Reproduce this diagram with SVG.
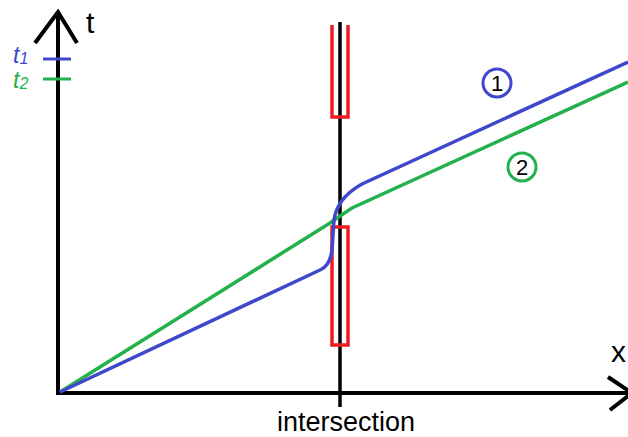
<svg xmlns="http://www.w3.org/2000/svg" width="628" height="437" viewBox="0 0 628 437">
<style>
.ax{stroke:#000;stroke-width:4;fill:none;stroke-linecap:butt}
.red{stroke:#ed1c24;stroke-width:3.5;fill:none}
.blue{stroke:#3f48cc;stroke-width:3.5;fill:none}
.green{stroke:#22b14c;stroke-width:3.5;fill:none}
text{font-family:"Liberation Sans",Arial,sans-serif}
</style>
<rect width="628" height="437" fill="#fff"/>
<g id="axes">
<path class="ax" d="M58,12 V393 H628"/>
<path class="ax" d="M35,43 L58,12 L77,43"/>
<path class="ax" d="M608,377 L632,393 L610,410"/>
<text x="86" y="33" font-size="30" fill="#000">t</text>
<text x="611" y="362" font-size="30" fill="#000">x</text>
</g>
<g id="legend">
<text x="13" y="63" font-size="23" font-style="italic" fill="#3f48cc">t<tspan font-size="16" dy="1">1</tspan></text>
<line x1="43" y1="59" x2="71" y2="59" stroke="#3f48cc" stroke-width="3"/>
<text x="13" y="88" font-size="23" font-style="italic" fill="#22b14c">t<tspan font-size="16" dy="1">2</tspan></text>
<line x1="43" y1="79" x2="71" y2="79" stroke="#22b14c" stroke-width="3"/>
</g>
<g id="intersection">
<line x1="340" y1="22" x2="340" y2="407" stroke="#000" stroke-width="3.5"/>
<path class="red" d="M332,25 V117 H348 V25"/>
<rect class="red" x="332" y="227" width="16" height="118"/>
<text x="346" y="431" font-size="27" text-anchor="middle" fill="#000">intersection</text>
</g>
<g id="connectors">
<path class="green" d="M60,392 L330,223 Q340,216 352,208 L628,82"/>
<path class="blue" d="M60,392 L320,270 Q330,266 332,250 L334,220 Q337,198 362,184 L628,62"/>
</g>
<g id="label1">
<circle cx="497" cy="83" r="14" fill="none" stroke="#3f48cc" stroke-width="3"/>
<text x="497" y="91" font-size="22" text-anchor="middle" fill="#000">1</text>
</g>
<g id="label2">
<circle cx="522" cy="167" r="14" fill="none" stroke="#22b14c" stroke-width="3"/>
<text x="522" y="175" font-size="22" text-anchor="middle" fill="#000">2</text>
</g>
</svg>
